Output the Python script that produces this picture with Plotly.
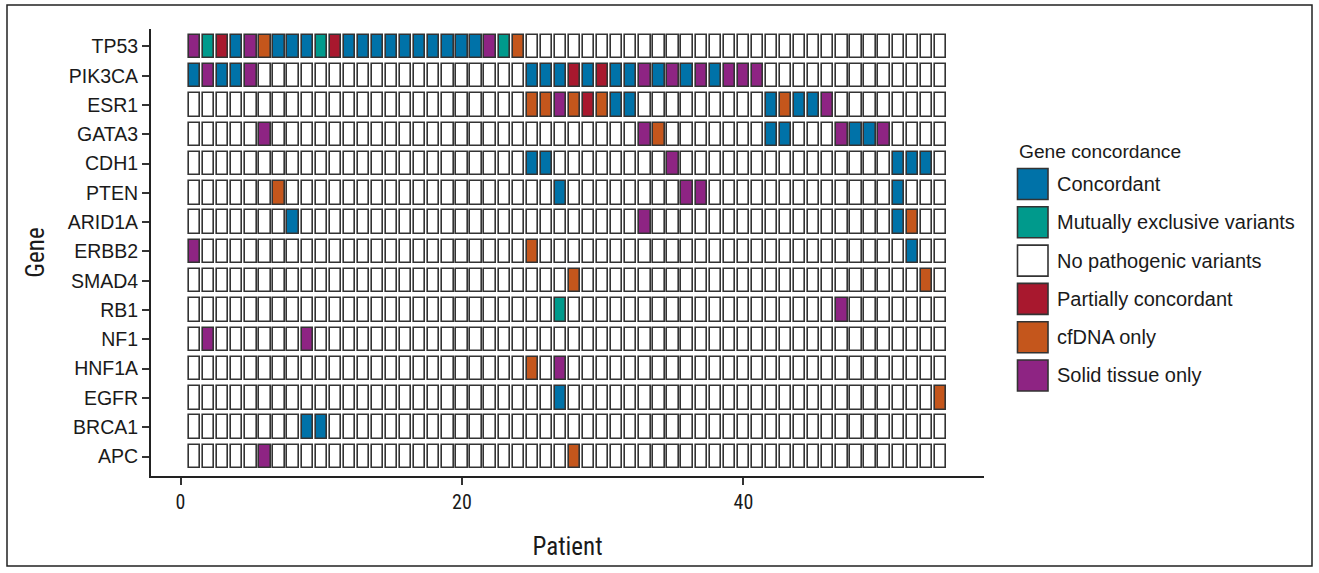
import plotly.graph_objects as go

# ---------------- data ----------------
genes = ["TP53", "PIK3CA", "ESR1", "GATA3", "CDH1", "PTEN", "ARID1A", "ERBB2",
         "SMAD4", "RB1", "NF1", "HNF1A", "EGFR", "BRCA1", "APC"]

patients = list(range(1, 55))

# status per patient (1..54): C=Concordant, M=Mutually exclusive variants,
# N=No pathogenic variants, P=Partially concordant, F=cfDNA only, S=Solid tissue only
TP53   = "SMPCSFCCCM PCCCCCCCCC CSMFNNNNNN NNNNNNNNNN NNNNNNNNNN NNNN"
PIK3CA = "CSCCSNNNNN NNNNNNNNNN NNNNCCCPCP CCSCSCSCSS SNNNNNNNNN NNNN"
ESR1   = "NNNNNNNNNN NNNNNNNNNN NNNNFFSFPF CCNNNNNNNN NCFCCSNNNN NNNN"
GATA3  = "NNNNNSNNNN NNNNNNNNNN NNNNNNNNNN NNSFNNNNNN NCCNNNSCCS NNNN"
CDH1   = "NNNNNNNNNN NNNNNNNNNN NNNNCCNNNN NNNNSNNNNN NNNNNNNNNN CCCN"
PTEN   = "NNNNNNFNNN NNNNNNNNNN NNNNNNCNNN NNNNNSSNNN NNNNNNNNNN CNNN"
ARID1A = "NNNNNNNCNN NNNNNNNNNN NNNNNNNNNN NNSNNNNNNN NNNNNNNNNN CFNN"
ERBB2  = "SNNNNNNNNN NNNNNNNNNN NNNNFNNNNN NNNNNNNNNN NNNNNNNNNN NCNN"
SMAD4  = "NNNNNNNNNN NNNNNNNNNN NNNNNNNFNN NNNNNNNNNN NNNNNNNNNN NNFN"
RB1    = "NNNNNNNNNN NNNNNNNNNN NNNNNNMNNN NNNNNNNNNN NNNNNNSNNN NNNN"
NF1    = "NSNNNNNNSN NNNNNNNNNN NNNNNNNNNN NNNNNNNNNN NNNNNNNNNN NNNN"
HNF1A  = "NNNNNNNNNN NNNNNNNNNN NNNNFNSNNN NNNNNNNNNN NNNNNNNNNN NNNN"
EGFR   = "NNNNNNNNNN NNNNNNNNNN NNNNNNCNNN NNNNNNNNNN NNNNNNNNNN NNNF"
BRCA1  = "NNNNNNNNCC NNNNNNNNNN NNNNNNNNNN NNNNNNNNNN NNNNNNNNNN NNNN"
APC    = "NNNNNSNNNN NNNNNNNNNN NNNNNNNFNN NNNNNNNNNN NNNNNNNNNN NNNN"

gene_status = [TP53, PIK3CA, ESR1, GATA3, CDH1, PTEN, ARID1A, ERBB2,
               SMAD4, RB1, NF1, HNF1A, EGFR, BRCA1, APC]

status_codes = ["C", "M", "N", "P", "F", "S"]
status_labels = ["Concordant", "Mutually exclusive variants", "No pathogenic variants",
                 "Partially concordant", "cfDNA only", "Solid tissue only"]
status_colors = ["#0072A8", "#009A8C", "#FFFFFF", "#A8182E", "#C4561C", "#8E2483"]

x_ticks = [0, 20, 40]

# ---------------- style ----------------
BASE = "Liberation Sans, Arial, Helvetica, sans-serif"
COND = ("Roboto Condensed, Noto Sans Condensed, Liberation Sans Narrow, "
        "Liberation Sans, Arial, sans-serif")
EDGE = "#333333"
TXT = "#1a1a1a"
CELL = 0.8

W, H = 1319, 573
L, R, T, B = 151, 984, 29, 476  # plot area in pixels

fig = go.Figure()

for code, label, color in zip(status_codes, status_labels, status_colors):
    ys, bases = [], []
    for g, s in zip(genes, gene_status):
        s = s.replace(" ", "")
        for p, c in zip(patients, s):
            if c == code:
                ys.append(g)
                bases.append(p - CELL / 2)
    fig.add_trace(go.Bar(
        orientation="h", y=ys, x=[CELL] * len(ys), base=bases, width=CELL,
        name=label, marker=dict(color=color, line=dict(color=EDGE, width=1.6)),
        showlegend=False, hoverinfo="skip",
    ))

def px_x(px):
    return (px - L) / (R - L)

def px_y(py):
    return (B - py) / (B - T)

shapes = []
annotations = []

# legend (drawn manually to get large square keys)
annotations.append(dict(xref="paper", yref="paper", x=px_x(1017), y=px_y(151),
                        xanchor="left", yanchor="middle", showarrow=False,
                        text="Gene concordance", font=dict(family=BASE, size=19.2, color=TXT)))
for k, (label, color) in enumerate(zip(status_labels, status_colors)):
    top = 168.5 + k * 38.3
    shapes.append(dict(type="rect", xref="paper", yref="paper",
                       x0=px_x(1017.5), x1=px_x(1048), y0=px_y(top + 31), y1=px_y(top),
                       fillcolor=color, line=dict(color=EDGE, width=1.6)))
    annotations.append(dict(xref="paper", yref="paper", x=px_x(1055), y=px_y(top + 15.5),
                            xanchor="left", yanchor="middle", showarrow=False,
                            text=label, font=dict(family=BASE, size=20, color=TXT)))

# outer frame
shapes.append(dict(type="rect", xref="paper", yref="paper",
                   x0=px_x(7), x1=px_x(1312), y0=px_y(566), y1=px_y(5),
                   line=dict(color="#222222", width=1.5), fillcolor="rgba(0,0,0,0)"))

fig.update_layout(
    width=W, height=H,
    margin=dict(l=L, r=W - R, t=T, b=H - B, pad=0),
    paper_bgcolor="white", plot_bgcolor="white",
    barmode="overlay", bargap=0,
    shapes=shapes, annotations=annotations,
    xaxis=dict(range=[-2.10, 57.10], tickvals=x_ticks, ticks="outside", ticklen=7,
               tickwidth=1.5, tickcolor=EDGE, showline=True, linecolor="#222222",
               linewidth=2, showgrid=False, zeroline=False,
               tickfont=dict(family=COND, size=20, color=TXT),
               title=dict(text="Patient", font=dict(family=COND, size=25, color=TXT), standoff=24)),
    yaxis=dict(type="category", categoryorder="array", categoryarray=genes,
               range=[14.666, -0.597], ticks="outside", ticklen=7, tickwidth=1.5,
               tickcolor=EDGE, showline=True, linecolor="#222222", linewidth=2,
               showgrid=False, zeroline=False,
               tickfont=dict(family=BASE, size=19.5, color=TXT),
               title=dict(text="Gene", font=dict(family=COND, size=25, color=TXT), standoff=16)),
)

fig.write_html("out.html")
